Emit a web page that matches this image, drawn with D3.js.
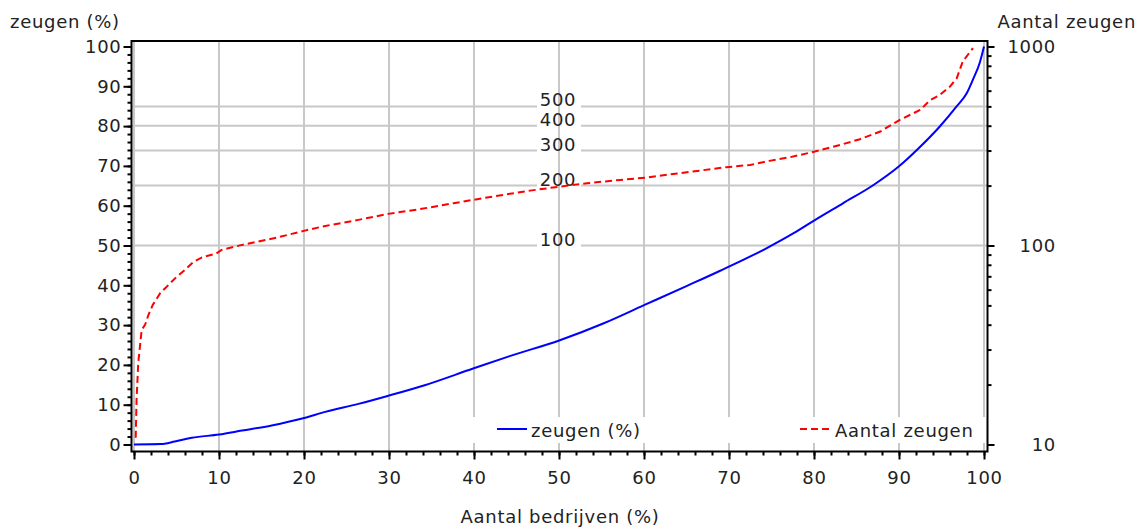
<!DOCTYPE html>
<html>
<head>
<meta charset="utf-8">
<script src="https://cdn.jsdelivr.net/npm/d3@7"></script>
<style>
  html, body { margin: 0; padding: 0; background: #fff; }
  svg text { font-family: "DejaVu Sans", sans-serif; font-size: 18px; fill: #222; letter-spacing: 0.7px; }
</style>
</head>
<body>
<div id="chart"></div>
<script>
// Lorenz-type curve: cumulative % of sows vs cumulative % of farms,
// plus herd size (log scale, right axis)

// blue line - zeugen (%)
const bedrijvenBlauw = [0, 3.1, 4.8, 6.8, 10, 12.7, 16.2, 19.9, 22.5, 26.4, 30, 34.2, 39.9, 44.2, 50.1, 55.2, 60, 65, 68.9, 74.4,
                        77.6, 80.1, 83.4, 87, 90, 92.1, 94.8, 96.8, 98, 98.7, 99.5, 100];
const zeugenPct      = [0, 0.1, 0.75, 1.7, 2.5, 3.5, 4.8, 6.6, 8.2, 10.2, 12.3, 14.9, 19.1, 22.2, 26.2, 30.4, 35, 39.8, 43.6, 49.3,
                        53.1, 56.4, 60.6, 65.2, 69.9, 74, 79.9, 85, 88.4, 91.7, 95.9, 100];

// red dashed line - Aantal zeugen (right axis, log)
const bedrijvenRood = [0.2, 0.3, 0.5, 0.9, 1.3, 1.7, 2.2, 3.1, 3.7, 5, 6, 7, 8, 9.7, 10.3, 12.7, 14.6, 17, 20.1, 22.5,
                       26.4, 29.9, 33.6, 37.6, 39.9, 43.4, 46.6, 50.1, 53.3, 57.2, 60.3, 64.2, 66.6, 69.7, 72.5, 74.9, 77.2, 80.1, 83.1, 85.4,
                       87.8, 90.1, 92.5, 93.6, 94.8, 96, 96.8, 97.5, 98.7];
const aantalZeugen  = [10.8, 16.7, 25.7, 37.7, 39.9, 44.8, 50.2, 57.8, 61.2, 69.5, 75.4, 82.7, 87.1, 91.3, 95, 100.7, 104.7, 110.1, 118.8, 125.4,
                       134.5, 144.2, 152.2, 163.2, 169.5, 179.6, 188.7, 197.7, 205.6, 213.6, 219.5, 231, 238, 247.5, 254, 267, 277.8, 296.5, 320.5, 342,
                       374, 428, 480, 535, 571, 629, 693, 841, 982];

// ticks
const xTicks      = d3.range(0, 101, 10);
const xMinor      = d3.range(0, 101, 2);
const yLeftTicks  = d3.range(0, 101, 10);
const yLeftMinor  = d3.range(0, 101, 2);
const yRightTicks = [10, 100, 1000];
const yRightMinor = [20, 30, 40, 50, 60, 70, 80, 90, 200, 300, 400, 500, 600, 700, 800, 900];
const refLines    = [100, 200, 300, 400, 500];   // labelled horizontal grid lines

const width = 1140, height = 528;
const frame = { left: 131.5, right: 987.5, top: 41, bottom: 451.5 };

const x  = d3.scaleLinear().domain([0, 100]).range([134, 984]);
const yL = d3.scaleLinear().domain([0, 100]).range([444.5, 46.5]);
const yR = d3.scaleLog().domain([10, 1000]).range([444.5, 46.5]);

const svg = d3.select("#chart").append("svg")
  .attr("width", width)
  .attr("height", height);

const GRID = "#c8c8c8";

// ── horizontal grid lines, broken where the label sits ──────────────────────
const gapL = x(50) - 22, gapR = x(50) + 22;
refLines.forEach(v => {
  svg.append("line")
    .attr("x1", frame.left).attr("x2", gapL)
    .attr("y1", yR(v)).attr("y2", yR(v))
    .attr("stroke", GRID).attr("stroke-width", 2);
  svg.append("line")
    .attr("x1", gapR).attr("x2", frame.right)
    .attr("y1", yR(v)).attr("y2", yR(v))
    .attr("stroke", GRID).attr("stroke-width", 2);
});

// vertical grid lines
svg.selectAll(".vgrid")
  .data(xTicks)
  .join("line")
  .attr("class", "vgrid")
  .attr("x1", d => x(d)).attr("x2", d => x(d))
  .attr("y1", frame.top).attr("y2", frame.bottom)
  .attr("stroke", GRID).attr("stroke-width", 2);

// labels on the reference lines
svg.selectAll(".reflabel")
  .data(refLines)
  .join("text")
  .attr("class", "reflabel")
  .attr("x", x(50) - 1)
  .attr("y", d => yR(d))
  .attr("text-anchor", "middle")
  .text(d => d);

// legend background (covers the grid)
svg.append("rect")
  .attr("x", 460).attr("y", 417)
  .attr("width", frame.right - 461).attr("height", 26)
  .attr("fill", "#fff");

// ── lines ──────────────────────────────────────────────────────────────────
const blueLine = d3.line()
  .x(d => x(d[0]))
  .y(d => yL(d[1]))
  .curve(d3.curveMonotoneX);

svg.append("path")
  .datum(d3.zip(bedrijvenBlauw, zeugenPct))
  .attr("d", blueLine)
  .attr("fill", "none")
  .attr("stroke", "#0000ff")
  .attr("stroke-width", 2);

const redLine = d3.line()
  .x(d => x(d[0]))
  .y(d => yR(d[1]));

svg.append("path")
  .datum(d3.zip(bedrijvenRood, aantalZeugen))
  .attr("d", redLine)
  .attr("fill", "none")
  .attr("stroke", "#ff0000")
  .attr("stroke-width", 2)
  .attr("stroke-dasharray", "7,4");

// ── frame ──────────────────────────────────────────────────────────────────
svg.append("rect")
  .attr("x", frame.left).attr("y", frame.top)
  .attr("width", frame.right - frame.left)
  .attr("height", frame.bottom - frame.top)
  .attr("fill", "none")
  .attr("stroke", "#000")
  .attr("stroke-width", 2);

// ── axes ───────────────────────────────────────────────────────────────────
function styleAxis(g) {
  g.select(".domain").remove();
  g.selectAll(".tick line").attr("stroke", "#000").attr("stroke-width", 2);
  g.selectAll(".tick text").attr("fill", "#222").style("font-size", "18px")
    .style("font-family", "'DejaVu Sans', sans-serif");
}

// left
svg.append("g")
  .attr("transform", `translate(${frame.left},0)`)
  .call(d3.axisLeft(yL).tickValues(yLeftMinor).tickSize(4).tickFormat(""))
  .call(styleAxis);
svg.append("g")
  .attr("transform", `translate(${frame.left},0)`)
  .call(d3.axisLeft(yL).tickValues(yLeftTicks).tickSize(8).tickPadding(2))
  .call(styleAxis);

// bottom
svg.append("g")
  .attr("transform", `translate(0,${frame.bottom})`)
  .call(d3.axisBottom(x).tickValues(xMinor).tickSize(4).tickFormat(""))
  .call(styleAxis);
svg.append("g")
  .attr("transform", `translate(0,${frame.bottom})`)
  .call(d3.axisBottom(x).tickValues(xTicks).tickSize(8).tickPadding(12))
  .call(styleAxis);

// right (log)
svg.append("g")
  .attr("transform", `translate(${frame.right},0)`)
  .call(d3.axisRight(yR).tickValues(yRightMinor).tickSize(4).tickFormat(""))
  .call(styleAxis);
const rightAx = svg.append("g")
  .attr("transform", `translate(${frame.right},0)`)
  .call(d3.axisRight(yR).tickValues(yRightTicks).tickSize(7).tickFormat(d3.format("d")))
  .call(styleAxis);
rightAx.selectAll(".tick text")
  .attr("x", 1056 - frame.right)
  .attr("text-anchor", "end");

// ── titles ─────────────────────────────────────────────────────────────────
svg.append("text").attr("x", 10).attr("y", 28).text("zeugen (%)");
svg.append("text").attr("x", 1136).attr("y", 28).attr("text-anchor", "end").text("Aantal zeugen");
svg.append("text").attr("x", 560).attr("y", 523).attr("text-anchor", "middle").text("Aantal bedrijven (%)");

// ── legend ─────────────────────────────────────────────────────────────────
svg.append("line")
  .attr("x1", 497).attr("x2", 527).attr("y1", 429).attr("y2", 429)
  .attr("stroke", "#0000ff").attr("stroke-width", 2);
svg.append("text").attr("x", 531).attr("y", 437).text("zeugen (%)");

svg.append("line")
  .attr("x1", 800).attr("x2", 831).attr("y1", 429).attr("y2", 429)
  .attr("stroke", "#ff0000").attr("stroke-width", 2)
  .attr("stroke-dasharray", "7,4");
svg.append("text").attr("x", 835).attr("y", 437).text("Aantal zeugen");
</script>
</body>
</html>
